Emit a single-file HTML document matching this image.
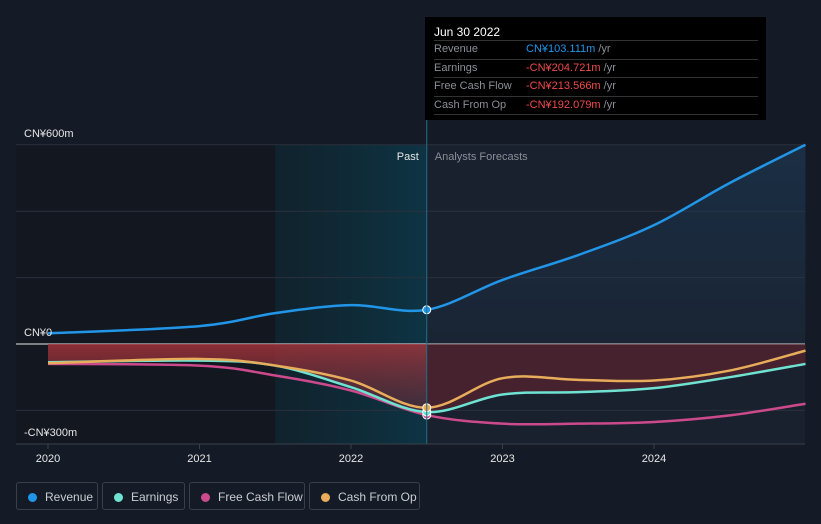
<!DOCTYPE html>
<html><head><meta charset="utf-8"><style>
body{margin:0;background:#151b26;font-family:"Liberation Sans",sans-serif;}
#w{position:relative;width:821px;height:524px;overflow:hidden;}
.leg{position:absolute;top:482px;height:28px;border:1px solid #3a404b;border-radius:3px;color:#c9ccd1;font-size:12px;line-height:28px;box-sizing:border-box;padding-left:28px}
.leg i{position:absolute;left:11px;top:10px;width:9px;height:9px;border-radius:50%}
</style></head><body><div id="w">
<svg id="s" width="821" height="524" style="position:absolute;left:0;top:0"></svg>
<div style="position:absolute;left:425px;top:17px;width:341px;height:103px;background:#000">
<div style="position:absolute;left:9px;top:8px;color:#fff;font-size:12px">Jun 30 2022</div>
<div style="position:absolute;left:9px;top:23px;width:324px;font-size:11px;line-height:17.5px;color:#8a8f97">
<div style="border-top:1px solid #333;position:relative">Revenue<span style="position:absolute;left:92px;color:#2196e8">CN¥103.111m <span style="color:#8a8f97">/yr</span></span></div>
<div style="border-top:1px solid #333;position:relative">Earnings<span style="position:absolute;left:92px;color:#f04a4a">-CN¥204.721m <span style="color:#8a8f97">/yr</span></span></div>
<div style="border-top:1px solid #333;position:relative">Free Cash Flow<span style="position:absolute;left:92px;color:#f04a4a">-CN¥213.566m <span style="color:#8a8f97">/yr</span></span></div>
<div style="border-top:1px solid #333;border-bottom:1px solid #333;position:relative">Cash From Op<span style="position:absolute;left:92px;color:#f04a4a">-CN¥192.079m <span style="color:#8a8f97">/yr</span></span></div>
</div></div>
<div class="leg" style="left:16px;width:82px"><i style="background:#2196e8"></i>Revenue</div>
<div class="leg" style="left:102px;width:83px"><i style="background:#6fe3d2"></i>Earnings</div>
<div class="leg" style="left:189px;width:116px"><i style="background:#cc4a8c"></i>Free Cash Flow</div>
<div class="leg" style="left:309px;width:111px"><i style="background:#e8ad5a"></i>Cash From Op</div>
</div>
<script>
const years=[2020,2021,2021.5,2022,2022.5,2023,2023.5,2024,2024.5,2025];
const revenue=[32,54,93,117,103,193,268,358,485,600];
const earnings=[-55,-50,-65,-130,-205,-152,-145,-133,-100,-60];
const fcf=[-60,-65,-95,-140,-214,-240,-240,-235,-215,-180];
const cfo=[-58,-45,-65,-110,-192,-103,-108,-110,-80,-20];
const yTicks=[600,400,200,0,-200];
const xTicks=[2020,2021,2022,2023,2024];
const NS="http://www.w3.org/2000/svg",s=document.getElementById('s');
const X=t=>48+(t-2020)*151.5, Y=v=>344-v*0.332;
const nowX=X(2022.5);
function el(tag,a,p){const e=document.createElementNS(NS,tag);for(const k in a)e.setAttribute(k,a[k]);(p||s).appendChild(e);return e;}
s.innerHTML='<defs><linearGradient id="hl" x1="0" x2="1"><stop offset="0" stop-color="#0f2a36" stop-opacity=".6"/><stop offset="1" stop-color="#0e3444"/></linearGradient><linearGradient id="rd" x1="0" x2="0" y1="0" y2="1"><stop offset="0" stop-color="#a8343a"/><stop offset="1" stop-color="#6a2a35" stop-opacity=".6"/></linearGradient><linearGradient id="bl" x1="0" x2="0" y1="0" y2="1"><stop offset="0" stop-color="#1d3d5c" stop-opacity=".8"/><stop offset="1" stop-color="#1d3d5c" stop-opacity=".2"/></linearGradient><clipPath id="cp"><rect x="0" y="0" width="'+nowX+'" height="524"/></clipPath><clipPath id="cf"><rect x="'+nowX+'" y="0" width="500" height="524"/></clipPath></defs>';
let r=el('rect',{x:16,y:145,width:nowX-16,height:299,fill:'#121720'});
r=el('rect',{x:X(2021.5),y:145,width:nowX-X(2021.5),height:299,fill:'url(#hl)'});
r=el('rect',{x:nowX,y:145,width:805-nowX,height:299,fill:'#19212e'});
yTicks.forEach(v=>{const g=el('line',{x1:16,x2:805,y1:Y(v),y2:Y(v),stroke:v===0?'#e8e8e8':'#2a313d','stroke-width':1});});
function path(arr){const p=years.map((t,i)=>[X(t),Y(arr[i])]);let d='M'+p[0];for(let i=0;i<p.length-1;i++){const a=p[i-1]||p[i],b=p[i],c=p[i+1],e=p[i+2]||c;
const c1=[b[0]+(c[0]-a[0])/6,b[1]+(c[1]-a[1])/6],c2=[c[0]-(e[0]-b[0])/6,c[1]-(e[1]-b[1])/6];d+=' C'+c1+' '+c2+' '+c;}return d;}
const negD=path(earnings)+' L'+X(2025)+','+Y(0)+' L'+X(2020)+','+Y(0)+'Z';
let f=el('path',{d:negD,fill:'url(#rd)',opacity:.8,'clip-path':'url(#cp)'});
f=el('path',{d:negD,fill:'#6a2430',opacity:.55,'clip-path':'url(#cf)'});
f=el('path',{d:path(revenue)+' L'+X(2025)+','+Y(0)+' L'+X(2020)+','+Y(0)+'Z',fill:'url(#bl)',opacity:.6,'clip-path':'url(#cf)'});
[[fcf,'#cc4a8c','fcf-line'],[earnings,'#6fe3d2','earnings-line'],[cfo,'#e8ad5a','cfo-line'],[revenue,'#2196e8','revenue-line']].forEach(([a,c,n])=>{const l=el('path',{d:path(a),fill:'none',stroke:c,'stroke-width':2.5});
const k=years.indexOf(2022.5);const d=el('circle',{cx:X(years[k]),cy:Y(a[k]),r:4,fill:c,stroke:'#fff','stroke-width':1});});
const nl=el('line',{x1:nowX,x2:nowX,y1:120,y2:444,stroke:'#1f6f86'});
const ax=el('line',{x1:16,x2:805,y1:444,y2:444,stroke:'#3a404b'});
xTicks.forEach(t=>{const tk=el('line',{x1:X(t),x2:X(t),y1:444,y2:449,stroke:'#3a404b'});
const tx=el('text',{x:X(t),y:462,fill:'#e6e6e6','font-size':11,'text-anchor':'middle'});tx.textContent=t;});
[['CN¥600m',137],['CN¥0',336],['-CN¥300m',436]].forEach(([t,y])=>{const tx=el('text',{x:24,y:y,fill:'#e6e6e6','font-size':11});tx.textContent=t;});
let tx=el('text',{x:nowX-8,y:160,fill:'#e6e6e6','font-size':11,'text-anchor':'end'});tx.textContent='Past';
tx=el('text',{x:nowX+8,y:160,fill:'#8a8f97','font-size':11});tx.textContent='Analysts Forecasts';
</script></body></html>
